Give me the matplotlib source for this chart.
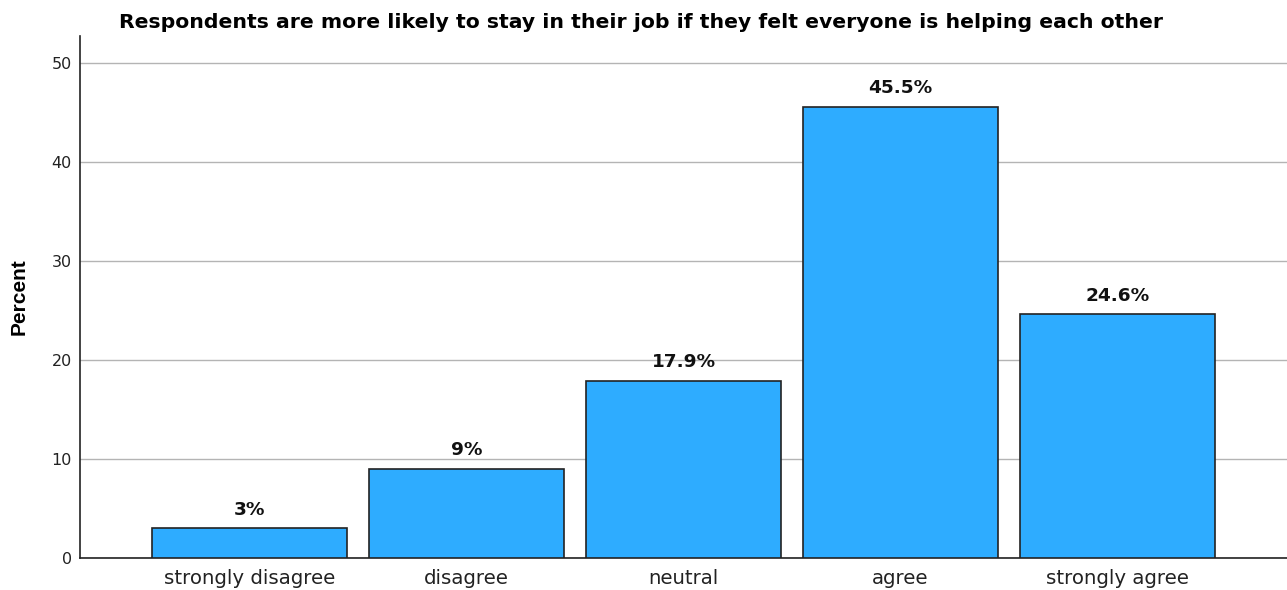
import matplotlib.pyplot as plt

categories = ["strongly disagree", "disagree", "neutral", "agree", "strongly agree"]
percents = [3.0, 9.0, 17.9, 45.5, 24.6]
labels = ["3%", "9%", "17.9%", "45.5%", "24.6%"]
yticks = [0, 10, 20, 30, 40, 50]

plt.rcParams["font.family"] = ["DejaVu Sans"]


def main():
    fig = plt.figure(figsize=(12.87, 5.90), dpi=100)
    ax = fig.add_axes([0.0622, 0.0542, 0.9378, 0.885])

    x = range(len(categories))
    bars = ax.bar(x, percents, width=0.9, color="#2eacff", edgecolor="#222222",
                  linewidth=1.2, zorder=3)

    # value labels above bars
    for b, lab in zip(bars, labels):
        ax.annotate(lab, (b.get_x() + b.get_width() / 2, b.get_height()),
                    xytext=(0, 7), textcoords="offset points",
                    ha="center", va="bottom", fontsize=13.3, fontweight="bold",
                    color="#111111")

    ax.set_xlim(-0.78, 4.78)
    ax.set_ylim(0, 52.7)
    ax.set_yticks(yticks)
    ax.set_xticks(list(x))
    ax.set_xticklabels(categories, fontsize=14.2, color="#222222")
    ax.tick_params(axis="y", labelsize=11.5, length=0, pad=6, colors="#222222")
    ax.tick_params(axis="x", length=0, pad=8)
    ax.yaxis.grid(True, color="#b4b4b4", linewidth=1, zorder=0)

    for side in ["top", "right"]:
        ax.spines[side].set_visible(False)
    ax.spines["left"].set_color("#222222")
    ax.spines["bottom"].set_color("#222222")
    ax.spines["left"].set_linewidth(1.2)
    ax.spines["bottom"].set_linewidth(1.2)

    ax.set_ylabel("Percent", fontsize=15, fontweight="bold", labelpad=16,
                  family=["Liberation Sans"])
    fig.text(0.498, 0.962, "Respondents are more likely to stay in their job if they felt everyone is helping each other",
             ha="center", va="center", fontsize=14.66, fontweight="bold")

    fig.savefig("out.png", dpi=100)


if __name__ == "__main__":
    main()
